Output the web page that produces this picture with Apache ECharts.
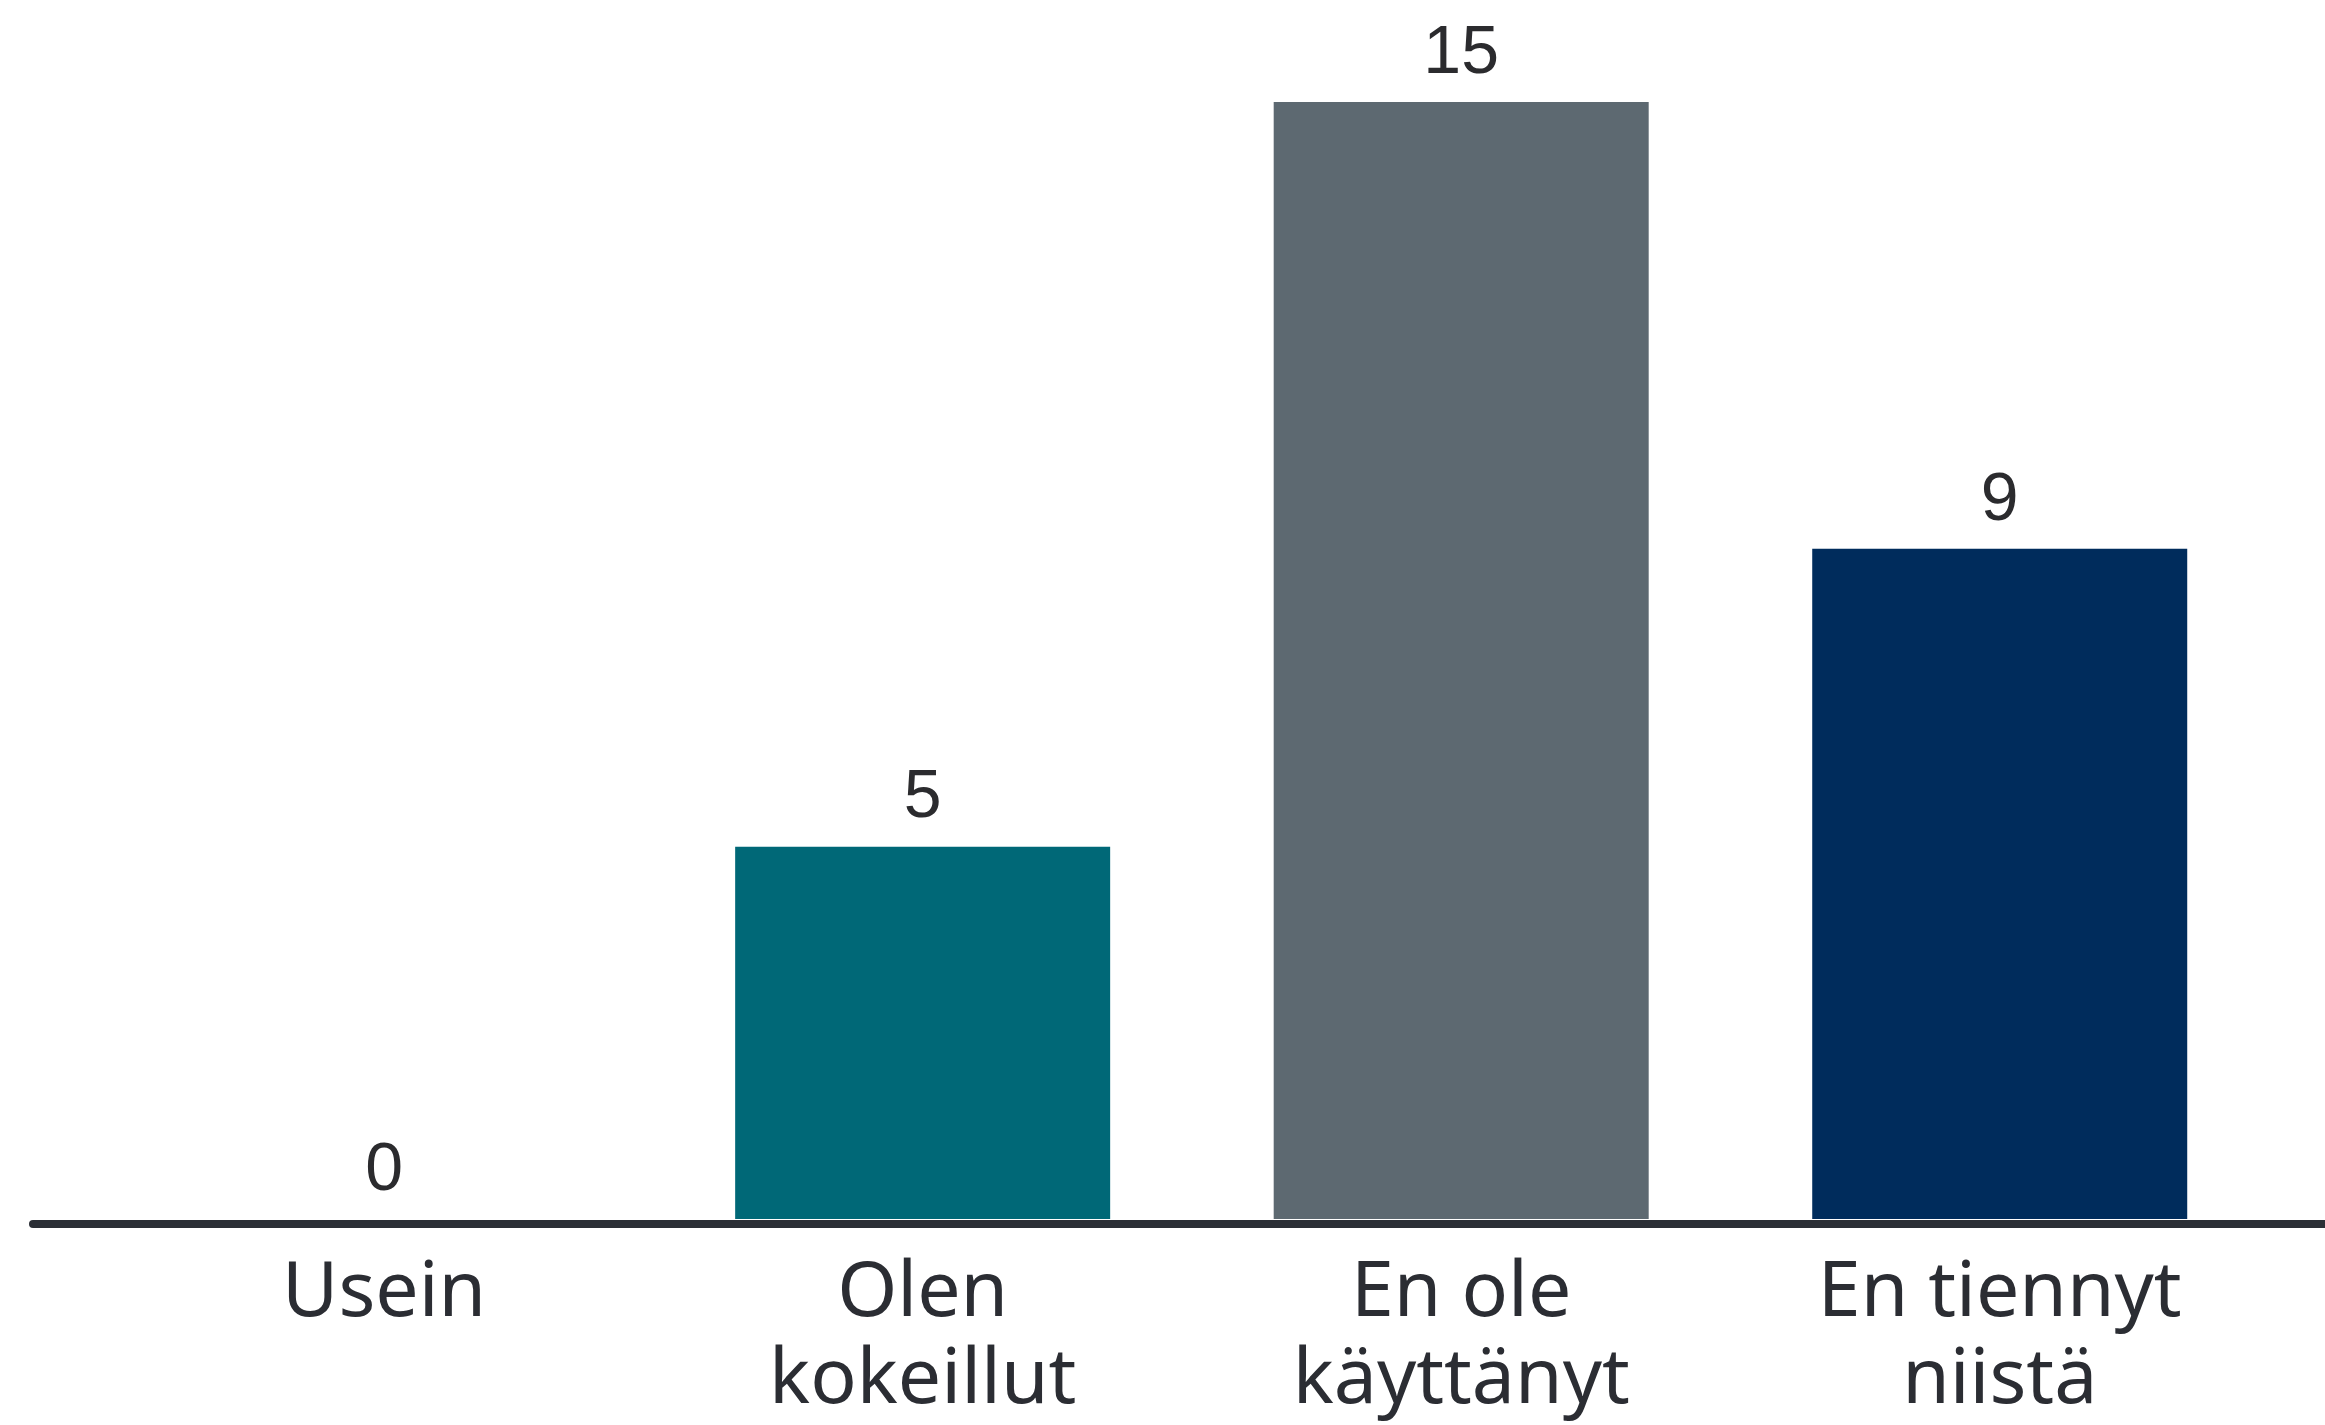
<!DOCTYPE html>
<html>
<head>
<meta charset="utf-8">
<script src="https://cdn.jsdelivr.net/npm/echarts@6/dist/echarts.min.js"></script>
<style>
html,body{margin:0;padding:0;background:#fff;}
#chart{width:2325px;height:1425px;}
</style>
</head>
<body>
<div id="chart"></div>
<script>
const categories = ['Usein', 'Olen\nkokeillut', 'En ole\nkäyttänyt', 'En tiennyt\nniistä'];
const values = [0, 5, 15, 9];
const barColors = ['#006877', '#006877', '#5d6971', '#002c5c'];
const positions = [0, 1, 2, 3];

const chart = echarts.init(document.getElementById('chart'));
chart.setOption({
  backgroundColor: '#ffffff',
  animation: false,
  grid: { left: 33, right: 0, top: 102, bottom: 205, containLabel: false },
  xAxis: {
    type: 'value',
    min: -0.652,
    max: 3.604,
    offset: 5,
    splitLine: { show: false },
    axisTick: { show: false },
    axisLine: { show: true, onZero: false, lineStyle: { color: '#2b2f36', width: 8 } },
    axisLabel: {
      customValues: positions,
      formatter: v => categories[Math.round(v)] || '',
      color: '#2b2d33',
      fontFamily: 'Noto Sans',
      fontSize: 77,
      lineHeight: 87,
      margin: 27,
      showMinLabel: true,
      showMaxLabel: true
    }
  },
  yAxis: {
    type: 'value',
    min: 0,
    max: 15,
    show: false
  },
  series: [{
    type: 'bar',
    barWidth: 375,
    data: values.map((v, i) => ({ value: [positions[i], v], itemStyle: { color: barColors[i] } })),
    label: {
      show: true,
      position: 'top',
      distance: 14,
      formatter: p => p.value[1],
      color: '#2b2b2e',
      fontFamily: 'Liberation Sans',
      fontSize: 68
    }
  }]
});
</script>
</body>
</html>
